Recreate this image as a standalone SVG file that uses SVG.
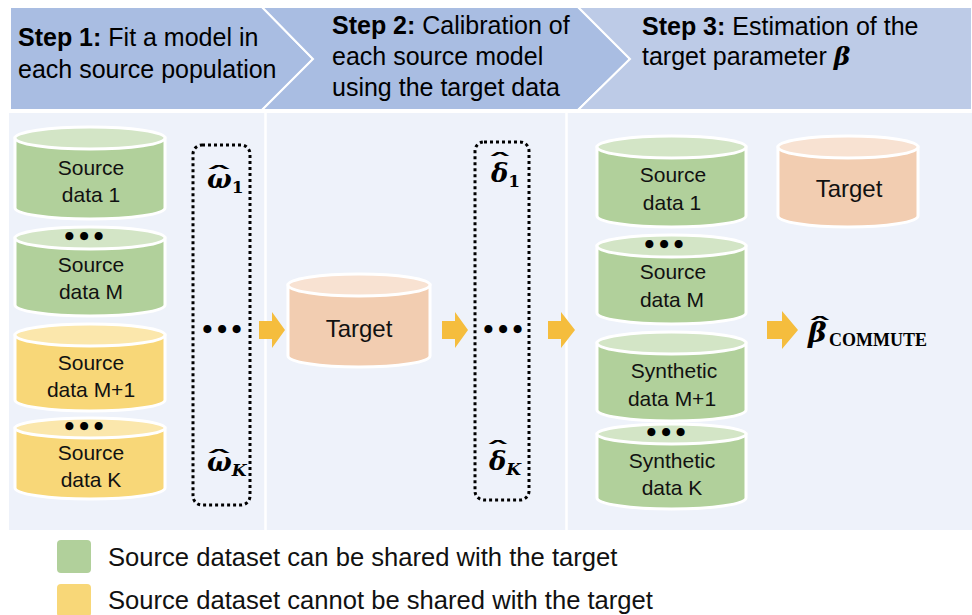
<svg xmlns="http://www.w3.org/2000/svg" width="972" height="615" viewBox="0 0 972 615">
  <defs>
    <style>
      .hd { font-family: "Liberation Sans", Arial, sans-serif; font-size: 25px; fill: #000; }
      .hd .b { font-weight: bold; }
      .lbl { font-family: "Liberation Sans", Arial, sans-serif; font-size: 21px; fill: #111; text-anchor: middle; }
      .tg { font-family: "Liberation Sans", Arial, sans-serif; font-size: 24px; fill: #111; text-anchor: middle; }
      .leg { font-family: "Liberation Sans", Arial, sans-serif; font-size: 25.6px; fill: #111; }
      .dots { font-family: "DejaVu Sans", sans-serif; font-size: 23px; font-weight: bold; fill: #000; text-anchor: middle; }
      .m { font-family: "DejaVu Serif", "Liberation Serif", serif; font-size: 26px; font-weight: bold; font-style: italic; fill: #000; }
      .hat { font-family: "DejaVu Sans", sans-serif; font-size: 22px; font-weight: bold; fill: #000; text-anchor: middle; }
      .sb1 { font-size: 17px; font-style: normal; }
      .sbk { font-size: 17px; }
      .sc { font-family: "Liberation Serif", serif; font-size: 18px; font-weight: bold; font-style: normal; }
      .cyl { stroke: #fff; stroke-width: 3; }
      .green .body { fill: #b1d09b; } .green .top { fill: #d3e5c6; }
      .yellow .body { fill: #f8d778; } .yellow .top { fill: #fbe7ac; }
      .orange .body { fill: #f2cdb1; } .orange .top { fill: #f8e2d2; }
      .arrow { fill: #f5bd3d; }
      .box { fill: none; stroke: #000; stroke-width: 3; stroke-dasharray: 3 3; }
    </style>
  </defs>

  <!-- step header chevrons -->
  <g id="headers">
    <polygon points="10,7 262,7 313,59 262,110 10,110" fill="#a9bde2" stroke="#fff" stroke-width="2"/>
    <polygon points="262,7 578,7 630,59 578,110 262,110 313,59" fill="#a9bde2" stroke="#fff" stroke-width="2"/>
    <polygon points="578,7 972,7 972,110 578,110 630,59" fill="#bdcbe7" stroke="#fff" stroke-width="2"/>
    <text class="hd" x="18" y="46"><tspan class="b">Step 1:</tspan> Fit a model in</text>
    <text class="hd" x="18" y="78">each source population</text>
    <text class="hd" x="332" y="34"><tspan class="b">Step 2:</tspan> Calibration of</text>
    <text class="hd" x="332" y="65">each source model</text>
    <text class="hd" x="332" y="96">using the target data</text>
    <text class="hd" x="642" y="35"><tspan class="b">Step 3:</tspan> Estimation of the</text>
    <text class="hd" x="642" y="65">target parameter <tspan style="font-family:'DejaVu Serif','Liberation Serif',serif;font-weight:bold;font-style:italic">β</tspan></text>
  </g>

  <!-- panel backgrounds -->
  <g id="panels">
    <rect x="9" y="113" width="963" height="417" fill="#eef2fa"/>
    <line x1="265.5" y1="113" x2="265.5" y2="530" stroke="#fff" stroke-width="2.5"/>
    <line x1="566.5" y1="113" x2="566.5" y2="530" stroke="#fff" stroke-width="2.5"/>
  </g>

  <!-- step 1: source populations -->
  <g id="src1" class="cyl green">
    <path class="body" d="M15,138 L15,208 A75,11 0 0 0 165,208 L165,138 Z"/>
    <ellipse class="top" cx="90" cy="138" rx="75" ry="11"/>
    <text class="lbl" x="91" y="175" stroke="none">Source</text>
    <text class="lbl" x="91" y="202" stroke="none">data 1</text>
  </g>
  <g id="srcM" class="cyl green">
    <path class="body" d="M15,238 L15,305 A75,11 0 0 0 165,305 L165,238 Z"/>
    <ellipse class="top" cx="90" cy="238" rx="75" ry="11"/>
    <text class="dots" x="84" y="245" stroke="none">•••</text>
    <text class="lbl" x="91" y="272" stroke="none">Source</text>
    <text class="lbl" x="91" y="299" stroke="none">data M</text>
  </g>
  <g id="srcM1" class="cyl yellow">
    <path class="body" d="M15,335 L15,400 A75,11 0 0 0 165,400 L165,335 Z"/>
    <ellipse class="top" cx="90" cy="335" rx="75" ry="11"/>
    <text class="lbl" x="91" y="370" stroke="none">Source</text>
    <text class="lbl" x="91" y="397" stroke="none">data M+1</text>
  </g>
  <g id="srcK" class="cyl yellow">
    <path class="body" d="M15,428 L15,488 A75,11 0 0 0 165,488 L165,428 Z"/>
    <ellipse class="top" cx="90" cy="428" rx="75" ry="10"/>
    <text class="dots" x="84" y="435" stroke="none">•••</text>
    <text class="lbl" x="91" y="460" stroke="none">Source</text>
    <text class="lbl" x="91" y="487" stroke="none">data K</text>
  </g>

  <g id="omega">
    <rect class="box" x="193" y="145" width="57" height="360" rx="9"/>
    <text class="hat" transform="translate(219,182) scale(2.6,1)">ˆ</text>
    <text class="m" x="207" y="188">ω<tspan class="sb1" dy="5">1</tspan></text>
    <text class="dots" x="222" y="338">•••</text>
    <text class="hat" transform="translate(219,466) scale(2.6,1)">ˆ</text>
    <text class="m" x="207" y="471">ω<tspan class="sbk" dy="5">K</tspan></text>
  </g>

  <!-- step 2: target data and calibration -->
  <g id="target2" class="cyl orange">
    <path class="body" d="M288,285 L288,356 A71,11 0 0 0 430,356 L430,285 Z"/>
    <ellipse class="top" cx="359" cy="285" rx="71" ry="11"/>
    <text class="tg" x="359" y="337" stroke="none">Target</text>
  </g>

  <g id="delta">
    <rect class="box" x="475" y="142" width="54" height="358" rx="9"/>
    <text class="hat" transform="translate(500,169) scale(2.3,1)">ˆ</text>
    <text class="m" x="491" y="182">δ<tspan class="sb1" dy="5">1</tspan></text>
    <text class="dots" x="503" y="338">•••</text>
    <text class="hat" transform="translate(498,457) scale(2.3,1)">ˆ</text>
    <text class="m" x="489" y="470">δ<tspan class="sbk" dy="5">K</tspan></text>
  </g>

  <!-- step 3: pooled data and estimate -->
  <g id="s3src1" class="cyl green">
    <path class="body" d="M597,147 L597,216 A74.5,11 0 0 0 746,216 L746,147 Z"/>
    <ellipse class="top" cx="671.5" cy="147" rx="74.5" ry="11"/>
    <text class="lbl" x="673" y="182" stroke="none">Source</text>
    <text class="lbl" x="672" y="210" stroke="none">data 1</text>
  </g>
  <g id="s3srcM" class="cyl green">
    <path class="body" d="M597,246 L597,313 A74.5,11 0 0 0 746,313 L746,246 Z"/>
    <ellipse class="top" cx="671.5" cy="246" rx="74.5" ry="11"/>
    <text class="dots" x="664" y="253" stroke="none">•••</text>
    <text class="lbl" x="673" y="279" stroke="none">Source</text>
    <text class="lbl" x="672" y="307" stroke="none">data M</text>
  </g>
  <g id="synM1" class="cyl green">
    <path class="body" d="M597,343 L597,410 A74.5,11 0 0 0 746,410 L746,343 Z"/>
    <ellipse class="top" cx="671.5" cy="343" rx="74.5" ry="11"/>
    <text class="lbl" x="674" y="378" stroke="none">Synthetic</text>
    <text class="lbl" x="672" y="406" stroke="none">data M+1</text>
  </g>
  <g id="synK" class="cyl green">
    <path class="body" d="M597,434 L597,498 A74.5,11 0 0 0 746,498 L746,434 Z"/>
    <ellipse class="top" cx="671.5" cy="434" rx="74.5" ry="10"/>
    <text class="dots" x="666" y="441" stroke="none">•••</text>
    <text class="lbl" x="672" y="468" stroke="none">Synthetic</text>
    <text class="lbl" x="672" y="495" stroke="none">data K</text>
  </g>
  <g id="target3" class="cyl orange">
    <path class="body" d="M778,147 L778,216 A70,11 0 0 0 918,216 L918,147 Z"/>
    <ellipse class="top" cx="848" cy="147" rx="70" ry="11"/>
    <text class="tg" x="849" y="197" stroke="none">Target</text>
  </g>

  <g id="estimate">
    <text class="hat" transform="translate(820,333) scale(2.3,1)">ˆ</text>
    <text class="m" x="808" y="342" style="font-size:28px">β<tspan class="sc" x="829" y="346">COMMUTE</tspan></text>
  </g>

  <!-- block arrows between stages -->
  <g id="connectors">
    <polygon class="arrow" points="259,321 272,321 272,312 285,330 272,348 272,339 259,339"/>
    <polygon class="arrow" points="442,321 455,321 455,312 468,330 455,348 455,339 442,339"/>
    <polygon class="arrow" points="548,321 561,321 561,312 575,330 561,348 561,339 548,339"/>
    <polygon class="arrow" points="767,321 782,321 782,311 798,330 782,349 782,339 767,339"/>
  </g>

  <!-- legend -->
  <g id="legend">
    <rect x="57" y="540" width="34" height="33" rx="4" fill="#b1d09b"/>
    <rect x="57" y="584" width="34" height="33" rx="4" fill="#f8d778"/>
    <text class="leg" x="108" y="566">Source dataset can be shared with the target</text>
    <text class="leg" x="108" y="609">Source dataset cannot be shared with the target</text>
  </g>
</svg>
